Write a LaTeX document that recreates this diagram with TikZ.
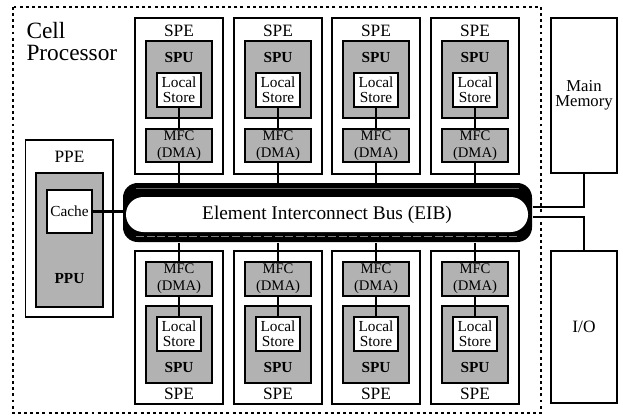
\documentclass[tikz,border=0pt]{standalone}
\usepackage{fontspec}
\setmainfont{Liberation Serif}
\usetikzlibrary{positioning}

\tikzset{every picture/.style={line width=0.75pt}}
\tikzset{
  cellborder/.style={line width=2.2pt, dash pattern=on 2.2pt off 2.4pt},
  outerbox/.style={draw, line width=1.1pt, fill=white, inner sep=0pt, minimum width=66pt},
  graybox/.style={draw, line width=1.5pt, fill=black!30, inner sep=0pt},
  storebox/.style={draw, line width=1.3pt, fill=white, inner sep=0pt, align=center,
    minimum width=33pt, minimum height=25.5pt, font=\fontsize{11.5}{11.5}\selectfont},
  mfcbox/.style={graybox, align=center, minimum width=49pt, minimum height=25pt,
    font=\fontsize{11}{12.5}\selectfont},
  spubox/.style={graybox, minimum width=49.5pt, minimum height=58pt},
  lbl/.style={inner sep=0pt, font=\fontsize{13}{13}\selectfont},
  unitlbl/.style={inner sep=0pt, font=\fontsize{11.5}{12}\selectfont\bfseries},
  link/.style={line width=1.9pt}
}

\begin{document}
\begin{tikzpicture}[x=0.75pt,y=0.75pt,yscale=-1,xscale=1]
\useasboundingbox (0,0) rectangle (623,417);

%Dotted border of the chip
\draw [cellborder] (13,7) rectangle (541,413) ;
% Text Node
\node [anchor=north west, align=left, inner sep=0pt, font=\fontsize{17.5}{16}\selectfont] (cellp) at (26,22) {Cell\\Processor};

%Element Interconnect Bus
\node [fill=black, rounded corners=11pt, minimum width=306.75pt, minimum height=44.25pt] (eib) at (327.5,212.5) {};
\draw [black!60, line width=0.5pt] ([xshift=10pt,yshift=4.5pt]eib.north west) -- ([xshift=-10pt,yshift=4.5pt]eib.north east) ;
\draw [black!50, line width=0.6pt, dash pattern=on 6pt off 2pt] ([xshift=10pt,yshift=-4.5pt]eib.south west) -- ([xshift=-10pt,yshift=-4.5pt]eib.south east) ;
\node [fill=white, rounded corners=13pt, minimum width=301.5pt, minimum height=26.25pt, font=\fontsize{14.5}{15}\selectfont] (eibin) at (327,214.5) {Element Interconnect Bus (EIB)};

%PPE
\node [outerbox, minimum width=65.5pt, minimum height=132.75pt] (ppe) at (69.3,228.5) {};
\node [lbl] (ppelbl) at (69.5,157) {PPE};
\node [graybox, minimum width=50pt, minimum height=100.5pt] (ppu) at (69.5,240) {};
\node [unitlbl] (ppulbl) at (69.5,279) {PPU};
\node [storebox, minimum width=33.75pt, minimum height=32pt] (cache) at (69.5,211.5) {Cache};
\draw [link] (cache.east) -- (cache.east -| eib.west) ;

%Top row of SPEs
\node [outerbox, minimum height=117pt] (spet1) at (179,96) {};
\node [lbl] (spet1lbl) at (179,31) {SPE};
\node [spubox] (sput1) at (179,79.3) {};
\node [unitlbl] (sput1lbl) at (179,58) {SPU};
\node [storebox] (lst1) at (179,90) {Local\\Store};
\node [mfcbox] (mfct1) at (179,145.5) {MFC\\(DMA)};
\draw [link] (lst1) -- (mfct1) ;
\draw [link] (mfct1) -- (mfct1 |- eib.north) ;

\node [outerbox, minimum height=117pt] (spet2) at (278,96) {};
\node [lbl] (spet2lbl) at (278,31) {SPE};
\node [spubox] (sput2) at (278,79.3) {};
\node [unitlbl] (sput2lbl) at (278,58) {SPU};
\node [storebox] (lst2) at (278,90) {Local\\Store};
\node [mfcbox] (mfct2) at (278,145.5) {MFC\\(DMA)};
\draw [link] (lst2) -- (mfct2) ;
\draw [link] (mfct2) -- (mfct2 |- eib.north) ;

\node [outerbox, minimum height=117pt] (spet3) at (376,96) {};
\node [lbl] (spet3lbl) at (376,31) {SPE};
\node [spubox] (sput3) at (376,79.3) {};
\node [unitlbl] (sput3lbl) at (376,58) {SPU};
\node [storebox] (lst3) at (376,90) {Local\\Store};
\node [mfcbox] (mfct3) at (376,145.5) {MFC\\(DMA)};
\draw [link] (lst3) -- (mfct3) ;
\draw [link] (mfct3) -- (mfct3 |- eib.north) ;

\node [outerbox, minimum height=117pt] (spet4) at (475,96) {};
\node [lbl] (spet4lbl) at (475,31) {SPE};
\node [spubox] (sput4) at (475,79.3) {};
\node [unitlbl] (sput4lbl) at (475,58) {SPU};
\node [storebox] (lst4) at (475,90) {Local\\Store};
\node [mfcbox] (mfct4) at (475,145.5) {MFC\\(DMA)};
\draw [link] (lst4) -- (mfct4) ;
\draw [link] (mfct4) -- (mfct4 |- eib.north) ;

%Bottom row of SPEs
\node [outerbox, minimum height=114.75pt] (speb1) at (179,327.5) {};
\node [lbl] (speb1lbl) at (179,394) {SPE};
\node [spubox] (spub1) at (179,344.5) {};
\node [unitlbl] (spub1lbl) at (179,367) {SPU};
\node [storebox] (lsb1) at (179,334) {Local\\Store};
\node [mfcbox] (mfcb1) at (179,279) {MFC\\(DMA)};
\draw [link] (lsb1) -- (mfcb1) ;
\draw [link] (mfcb1) -- (mfcb1 |- eib.south) ;

\node [outerbox, minimum height=114.75pt] (speb2) at (278,327.5) {};
\node [lbl] (speb2lbl) at (278,394) {SPE};
\node [spubox] (spub2) at (278,344.5) {};
\node [unitlbl] (spub2lbl) at (278,367) {SPU};
\node [storebox] (lsb2) at (278,334) {Local\\Store};
\node [mfcbox] (mfcb2) at (278,279) {MFC\\(DMA)};
\draw [link] (lsb2) -- (mfcb2) ;
\draw [link] (mfcb2) -- (mfcb2 |- eib.south) ;

\node [outerbox, minimum height=114.75pt] (speb3) at (376,327.5) {};
\node [lbl] (speb3lbl) at (376,394) {SPE};
\node [spubox] (spub3) at (376,344.5) {};
\node [unitlbl] (spub3lbl) at (376,367) {SPU};
\node [storebox] (lsb3) at (376,334) {Local\\Store};
\node [mfcbox] (mfcb3) at (376,279) {MFC\\(DMA)};
\draw [link] (lsb3) -- (mfcb3) ;
\draw [link] (mfcb3) -- (mfcb3 |- eib.south) ;

\node [outerbox, minimum height=114.75pt] (speb4) at (475,327.5) {};
\node [lbl] (speb4lbl) at (475,394) {SPE};
\node [spubox] (spub4) at (475,344.5) {};
\node [unitlbl] (spub4lbl) at (475,367) {SPU};
\node [storebox] (lsb4) at (475,334) {Local\\Store};
\node [mfcbox] (mfcb4) at (475,279) {MFC\\(DMA)};
\draw [link] (lsb4) -- (mfcb4) ;
\draw [link] (mfcb4) -- (mfcb4 |- eib.south) ;

%Off-chip blocks
\node [outerbox, minimum width=49.5pt, minimum height=116.25pt, align=center, font=\fontsize{12.5}{11.5}\selectfont] (mem) at (584,95.5) {Main\\Memory};
\node [outerbox, minimum width=49.5pt, minimum height=114pt, font=\fontsize{13}{13}\selectfont] (io) at (584,327) {I/O};
\draw [link] ([yshift=-4pt]eib.east) -| (mem.south) ;
\draw [link] ([yshift=3.4pt]eib.east) -| (io.north) ;

\end{tikzpicture}
\end{document}
